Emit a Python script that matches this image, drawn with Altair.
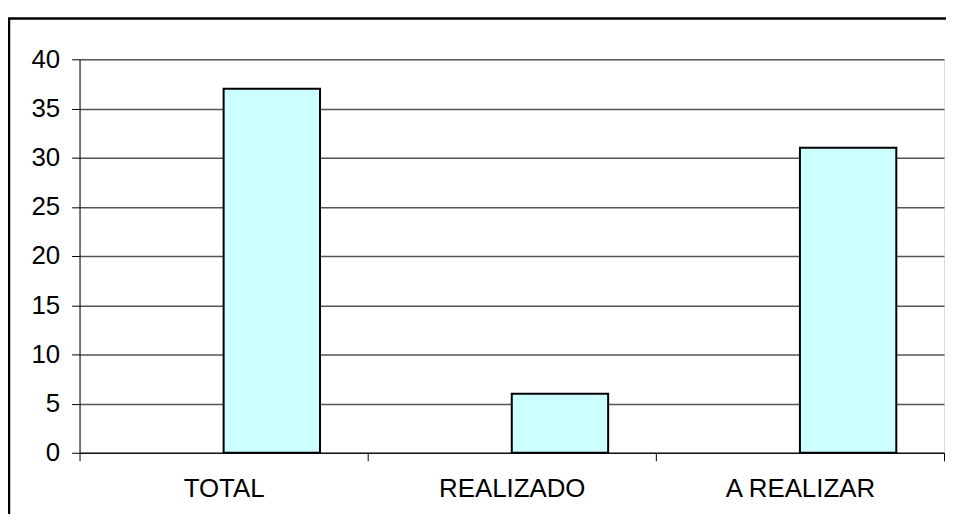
import altair as alt
import pandas as pd

categories = ["TOTAL", "REALIZADO", "A REALIZAR"]
values = [37, 6, 31]
series_names = ["Serie0", "Serie1"]  # Serie0 is empty (hidden slot, like the Excel source)
y_ticks = [0, 5, 10, 15, 20, 25, 30, 35, 40]

df = pd.DataFrame({"cat": categories, "val": values, "serie": ["Serie1"] * len(categories)})

FONT = "Liberation Sans"

bars = alt.Chart(df).mark_bar(fill="#CCFFFF", stroke="#000000", strokeWidth=2).encode(
    x=alt.X(
        "cat:N",
        sort=categories,
        title=None,
        scale=alt.Scale(paddingInner=0, paddingOuter=0),
        axis=alt.Axis(
            labelAngle=0,
            tickBand="extent",
            tickSize=8,
            tickColor="#000000",
            domainColor="#000000",
            labelFontSize=26,
            labelFont=FONT,
            labelColor="#000000",
            labelPadding=15,
            grid=False,
        ),
    ),
    xOffset=alt.XOffset(
        "serie:N",
        scale=alt.Scale(domain=series_names, paddingInner=0, paddingOuter=0.495),
    ),
    y=alt.Y(
        "val:Q",
        title=None,
        scale=alt.Scale(domain=[0, 40], nice=False),
        axis=alt.Axis(
            values=y_ticks,
            tickSize=8,
            tickColor="#000000",
            domainColor="#000000",
            labelFontSize=26,
            labelFont=FONT,
            labelColor="#000000",
            labelPadding=12,
            grid=True,
            gridColor="#555555",
            gridWidth=1.5,
        ),
    ),
)

frame = alt.Chart(pd.DataFrame({"k": [0]})).mark_rect(
    fillOpacity=0, stroke="#000000", strokeWidth=2.5
).encode(
    x=alt.value(-71),
    x2=alt.value(900),
    y=alt.value(-41),
    y2=alt.value(520),
)

chart = alt.layer(bars, frame).properties(
    width=870,
    height=396,
    padding={"left": 72, "top": 50, "right": 2, "bottom": 60},
    autosize=alt.AutoSizeParams(type="none"),
).configure_view(stroke="#222222", strokeWidth=1.5).configure(background="#FFFFFF")

chart.save("out.html", embed_options={"renderer": "svg", "actions": False})
